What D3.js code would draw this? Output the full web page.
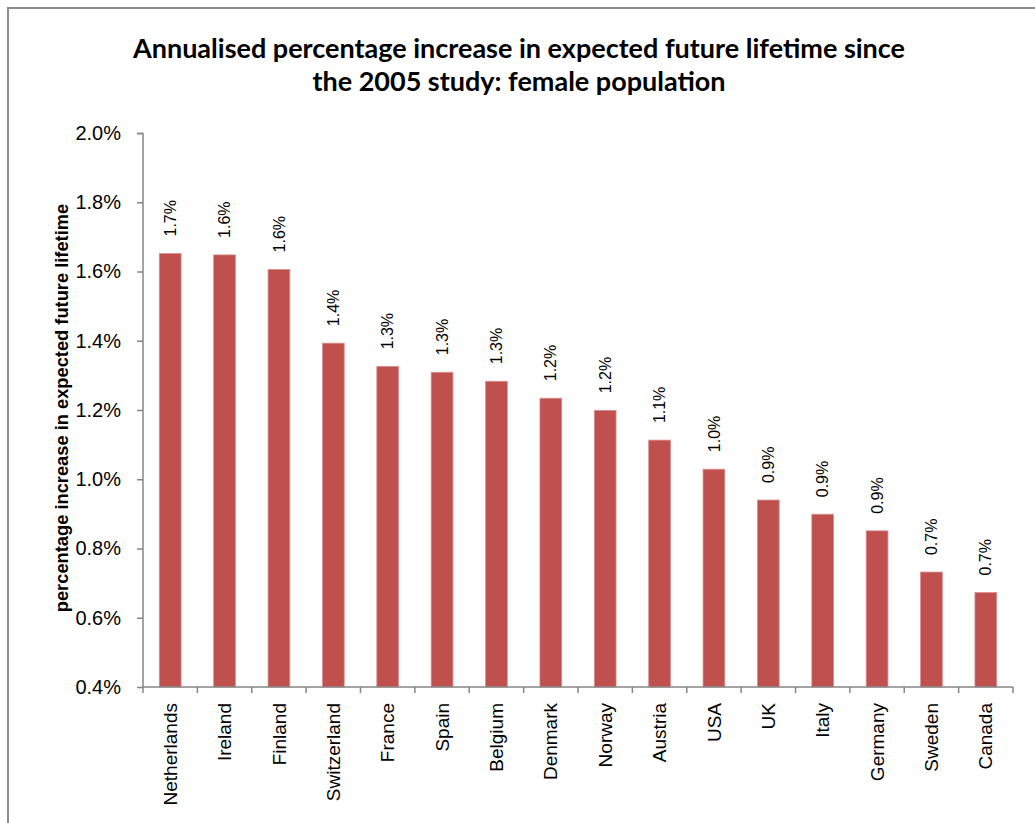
<!DOCTYPE html>
<html><head><meta charset="utf-8">
<script src="https://cdn.jsdelivr.net/npm/d3@7"></script>
<style>body{margin:0;background:#fff;} svg{display:block;}</style>
</head><body>
<svg id="c" width="1035" height="823"></svg>
<script>
const categories = ["Netherlands","Ireland","Finland","Switzerland","France","Spain","Belgium","Denmark","Norway","Austria","USA","UK","Italy","Germany","Sweden","Canada"];
const values = [1.652,1.648,1.606,1.393,1.326,1.309,1.283,1.234,1.199,1.113,1.029,0.940,0.899,0.851,0.732,0.673];
const yTicks = [0.4,0.6,0.8,1.0,1.2,1.4,1.6,1.8,2.0];
const titleLines = ["Annualised percentage increase in expected future lifetime since","the 2005 study: female population"];
const yTitle = "percentage increase in expected future lifetime";

const svg = d3.select("#c");
svg.append("rect").attr("x",8).attr("y",8).attr("width",1100).attr("height",900)
  .attr("fill","#fff").attr("stroke","#8c8c8c").attr("stroke-width",2);

const x = d3.scaleBand().domain(categories).range([143,1013]).paddingInner(0.6).paddingOuter(0.3);
const y = d3.scaleLinear().domain([0.4,2.0]).range([687,133]);
const axisColor = "#868686";

// title
svg.append("g").selectAll("text").data(titleLines).join("text")
  .attr("x",519).attr("y",(d,i)=>58+i*33)
  .attr("text-anchor","middle").attr("font-family","Lato, 'Open Sans', sans-serif")
  .attr("font-weight","bold").attr("font-size",27).attr("fill","#000").text(d=>d);

// y axis
const ya = svg.append("g").attr("transform","translate(143,0)")
  .call(d3.axisLeft(y).tickValues(yTicks).tickSize(6).tickPadding(16).tickFormat(d=>d.toFixed(1)+"%"));
ya.select(".domain").attr("stroke",axisColor).attr("stroke-width",1.5).attr("d","M-6,133.5H0V687");
ya.selectAll(".tick line").attr("stroke",axisColor).attr("stroke-width",1.5);
ya.selectAll(".tick text").attr("font-family","Liberation Sans, Arial, sans-serif").attr("font-size",20).attr("fill","#000");

// bars
svg.append("g").selectAll("rect").data(values).join("rect")
  .attr("x",(d,i)=>x(categories[i])).attr("width",x.bandwidth())
  .attr("y",d=>y(d)).attr("height",d=>y(0.4)-y(d))
  .attr("fill","#C0504D").attr("stroke","#d9908e").attr("stroke-width",0.8);

// value labels
svg.append("g").selectAll("text").data(values).join("text")
  .attr("transform",(d,i)=>`translate(${x(categories[i])+x.bandwidth()/2},${y(d)-17}) rotate(-90)`)
  .attr("dy","0.35em").attr("text-anchor","start")
  .attr("font-family","Liberation Sans, Arial, sans-serif").attr("font-size",16).attr("fill","#000")
  .text(d=>d.toFixed(1)+"%");

// x axis
const xa = svg.append("g").attr("transform","translate(0,687)");
xa.append("line").attr("x1",143).attr("x2",1013).attr("stroke",axisColor).attr("stroke-width",1.5);
const bounds = categories.map(c=>x(c)-x.step()*0.3).concat([1013]);
xa.selectAll("line.t").data(bounds).join("line").attr("class","t")
  .attr("x1",d=>d).attr("x2",d=>d).attr("y1",0).attr("y2",6).attr("stroke",axisColor).attr("stroke-width",1.5);
xa.selectAll("text").data(categories).join("text")
  .attr("transform",d=>`translate(${x(d)+x.bandwidth()/2},16) rotate(-90)`)
  .attr("dy","0.35em").attr("text-anchor","end")
  .attr("font-family","Liberation Sans, Arial, sans-serif").attr("font-size",19).attr("fill","#000")
  .text(d=>d);

// y title
svg.append("text").attr("transform","translate(62,408) rotate(-90)")
  .attr("dy","0.35em").attr("text-anchor","middle")
  .attr("font-family","Liberation Sans, Arial, sans-serif").attr("font-weight","bold").attr("font-size",18.3)
  .attr("fill","#000").text(yTitle);
</script>
</body></html>
